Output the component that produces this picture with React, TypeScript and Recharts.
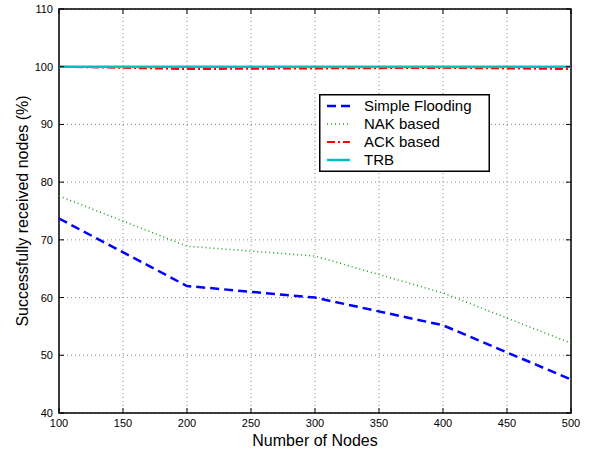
import React from "react";
import {
  LineChart,
  Line,
  XAxis,
  YAxis,
  CartesianGrid,
  ReferenceArea,
} from "recharts";

// Number of nodes on x axis
const nodes = [100, 200, 300, 400, 500];
// Successfully received nodes (%) per scheme
const simpleFlooding = [73.7, 62.0, 60.0, 55.2, 45.8];
const nakBased = [77.6, 68.9, 67.2, 60.8, 52.1];
const ackBased = [100, 99.6, 99.7, 99.8, 99.6];
const trb = [100, 100, 100, 100, 100];

const xTicks = [100, 150, 200, 250, 300, 350, 400, 450, 500];
const yTicks = [40, 50, 60, 70, 80, 90, 100, 110];

const series = [
  { key: "flood", name: "Simple Flooding", color: "#0000ff", width: 2.5, dash: "9 5" },
  { key: "nak", name: "NAK based", color: "#1a9e1a", width: 1.5, dash: "1 3" },
  { key: "ack", name: "ACK based", color: "#ff0000", width: 2, dash: "8 3 2 3" },
  { key: "trb", name: "TRB", color: "#00bfbf", width: 2.5, dash: undefined },
];

const data = nodes.map((n, i) => ({
  nodes: n,
  flood: simpleFlooding[i],
  nak: nakBased[i],
  ack: ackBased[i],
  trb: trb[i],
}));

const font = "'Liberation Sans', Arial, Helvetica, sans-serif";

// plot frame edges (from chart margins)
const TOP = 9;
const RIGHT = 600 - 29;

// matlab style ticks: small marks pointing into the plot, on both sides
function XTick(props: any) {
  const { x, y, payload } = props;
  const base = y - 6;
  return (
    <g>
      <line x1={x} x2={x} y1={base} y2={base - 5} stroke="#000" />
      <line x1={x} x2={x} y1={TOP} y2={TOP + 5} stroke="#000" />
      <text x={x} y={y} dy="0.75em" textAnchor="middle" fontSize={11} fontFamily={font} fill="#000">
        {payload.value}
      </text>
    </g>
  );
}

function YTick(props: any) {
  const { x, y, payload } = props;
  const base = x + 8;
  return (
    <g>
      <line x1={base} x2={base + 5} y1={y} y2={y} stroke="#000" />
      <line x1={RIGHT} x2={RIGHT - 5} y1={y} y2={y} stroke="#000" />
      <text x={x + 2} y={y} dy="0.36em" textAnchor="end" fontSize={11} fontFamily={font} fill="#000">
        {payload.value}
      </text>
    </g>
  );
}

function LegendBox() {
  return (
    <svg
      width={171}
      height={78}
      style={{ position: "absolute", left: 319, top: 94 }}
    >
      <rect x={0.75} y={0.75} width={169.5} height={76.5} fill="#fff" stroke="#000" strokeWidth={1.5} />
      {series.map((s, i) => {
        const y = 12 + i * 18;
        return (
          <g key={s.key}>
            <line
              x1={8}
              x2={31}
              y1={y}
              y2={y}
              stroke={s.color}
              strokeWidth={s.width}
              strokeDasharray={s.dash}
            />
            <text x={45} y={y + 5} fontSize={15} fontFamily={font} fill="#000">
              {s.name}
            </text>
          </g>
        );
      })}
    </svg>
  );
}

export default function App() {
  return (
    <div style={{ position: "absolute", left: 0, top: 0, width: 600, height: 450, background: "#fff" }}>
      <LineChart
        width={600}
        height={450}
        data={data}
        margin={{ top: TOP, right: 29, bottom: 0, left: 19 }}
      >
        <CartesianGrid stroke="#888" strokeDasharray="1 3" />
        <XAxis
          dataKey="nodes"
          type="number"
          domain={[100, 500]}
          ticks={xTicks}
          height={37}
          axisLine={false}
          tickLine={false}
          tickMargin={0}
          tick={<XTick />}
          label={{
            value: "Number of Nodes",
            position: "insideBottom",
            offset: 4,
            style: { fontSize: 16, fill: "#000", fontFamily: font },
          }}
        />
        <YAxis
          type="number"
          domain={[40, 110]}
          ticks={yTicks}
          width={40}
          axisLine={false}
          tickLine={false}
          tickMargin={2}
          tick={<YTick />}
          label={{
            value: "Successfully received nodes (%)",
            angle: -90,
            position: "insideLeft",
            offset: 3,
            style: { textAnchor: "middle", fontSize: 16, fill: "#000", fontFamily: font },
          }}
        />
        {series.map((s) => (
          <Line
            key={s.key}
            dataKey={s.key}
            name={s.name}
            type="linear"
            stroke={s.color}
            strokeWidth={s.width}
            strokeDasharray={s.dash}
            dot={false}
            activeDot={false}
            isAnimationActive={false}
          />
        ))}
        <ReferenceArea
          x1={100}
          x2={500}
          y1={40}
          y2={110}
          fill="none"
          fillOpacity={0}
          stroke="#000"
          strokeWidth={1.5}
          ifOverflow="visible"
        />
      </LineChart>
      <LegendBox />
    </div>
  );
}
